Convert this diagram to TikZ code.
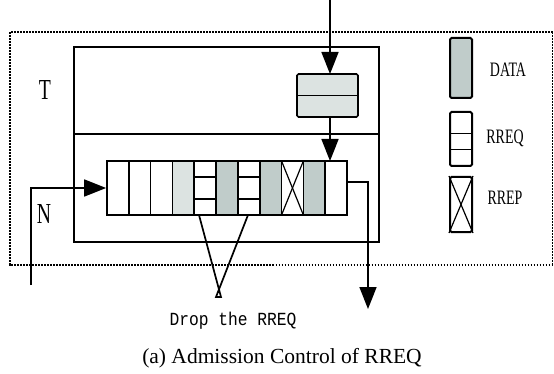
\documentclass[tikz,border=0pt]{standalone}
\usepackage{fontspec}
\setmainfont{Liberation Serif}
\newfontfamily\cnfont[FakeStretch=0.68]{Liberation Serif}
\newfontfamily\dropfont[FakeStretch=0.88]{Liberation Mono}
\usetikzlibrary{arrows.meta}
\definecolor{lightg}{RGB}{220,227,225}
\definecolor{darkg}{RGB}{192,204,202}
\tikzset{
  ln/.style={line width=1.7pt},
  thinln/.style={line width=1.2pt},
  bigarrow/.style={ln,-{Triangle[length=22pt,width=17pt]}},
  legendbox/.style={draw,line width=2pt,rounded corners=1.5pt},
  lbl/.style={font=\cnfont\fontsize{20.5}{22}\selectfont},
  biglbl/.style={font=\cnfont\fontsize{29}{30}\selectfont},
}
\begin{document}
\begin{tikzpicture}[x=1pt,y=-1pt]
\useasboundingbox (0,0) rectangle (554,374);
% outer dotted border
\draw[line width=2.6pt,dash pattern=on 1.8pt off 1.2pt,line cap=butt]
  (552.5,32) -- (10,32) -- (10,265) -- (552.5,265);
\draw[line width=1pt,dash pattern=on 2pt off 1pt] (552.5,32) -- (552.5,265);
% inner box
\node[draw,ln,minimum width=305pt,minimum height=195pt,inner sep=0pt] (ib) at (226.5,144.5) {};
\draw[ln] (74,134) -- (379,134);
\node[biglbl] (T) at (45,90) {T};
\node[biglbl] (N) at (44,214) {N};
% top box in T
\node[draw,ln,fill=lightg,rounded corners=1.5pt,minimum width=61pt,minimum height=43pt,inner sep=0pt] (tb) at (327.5,95.5) {};
\draw[ln] (tb.west) -- (tb.east);
% queue cells
\foreach \i/\f in {0/white,1/white,2/white,3/lightg,4/white,5/darkg,6/white,7/darkg,8/white,9/darkg,10/white}{
  \fill[\f] ({107+21.818*\i},161) rectangle ({107+21.818*(\i+1)},215);
}
\node[draw,ln,minimum width=240pt,minimum height=54pt,inner sep=0pt] (q) at (227,188) {};
\foreach \i in {1,...,10}{
  \draw[ln] ({107+21.818*\i},161) -- ({107+21.818*\i},215);
}
\foreach \i in {4,6}{
  \draw[ln] ({107+21.818*\i},177) -- ({107+21.818*(\i+1)},177);
  \draw[ln] ({107+21.818*\i},199) -- ({107+21.818*(\i+1)},199);
}
\draw[thinln] ({107+21.818*8},161) -- ({107+21.818*9},215);
\draw[thinln] ({107+21.818*9},161) -- ({107+21.818*8},215);
% arrows
\coordinate (topin) at (330,0);
\draw[bigarrow] (topin) -- (330,74);
\draw[bigarrow] (330,117) -- (330,161);
\coordinate (nin) at (31,285);
\coordinate (ncorner) at (31,188);
\draw[bigarrow] (nin) -- (ncorner) -- (q.west);
\coordinate (ostart) at (347,182);
\coordinate (ocorner) at (368,182);
\coordinate (oend) at (368,309);
\draw[bigarrow] (ostart) -- (ocorner) -- (oend);
% drop lines
\coordinate (d1) at (199,215);
\coordinate (d2) at (248,215);
\coordinate (a1) at (221,297);
\coordinate (a2) at (216,297);
\draw[ln,line join=miter] (d1) -- (a1) -- (a2) -- (d2);
\node[font=\dropfont\fontsize{18.5}{20}\selectfont] (drop) at (233,321) {Drop the RREQ};
% legend
\node[legendbox,fill=darkg,minimum width=22pt,minimum height=60pt,inner sep=0pt] (ldata) at (461,68) {};
\node[lbl] (tdata) at (508,70) {DATA};
\node[legendbox,minimum width=22pt,minimum height=54pt,inner sep=0pt] (lrreq) at (461,139) {};
\draw[ln] (450,133.5) -- (472,133.5);
\draw[ln] (450,149.5) -- (472,149.5);
\node[lbl] (trreq) at (505,138) {RREQ};
\node[legendbox,minimum width=22pt,minimum height=55pt,inner sep=0pt] (lrrep) at (461,204.5) {};
\draw[thinln] (lrrep.north west) -- (lrrep.south east);
\draw[thinln] (lrrep.north east) -- (lrrep.south west);
\node[lbl] (trrep) at (505,198) {RREP};
% caption
\node[font=\fontsize{21.5}{24}\selectfont] (cap) at (282,358) {(a) Admission Control of RREQ};
\end{tikzpicture}
\end{document}
